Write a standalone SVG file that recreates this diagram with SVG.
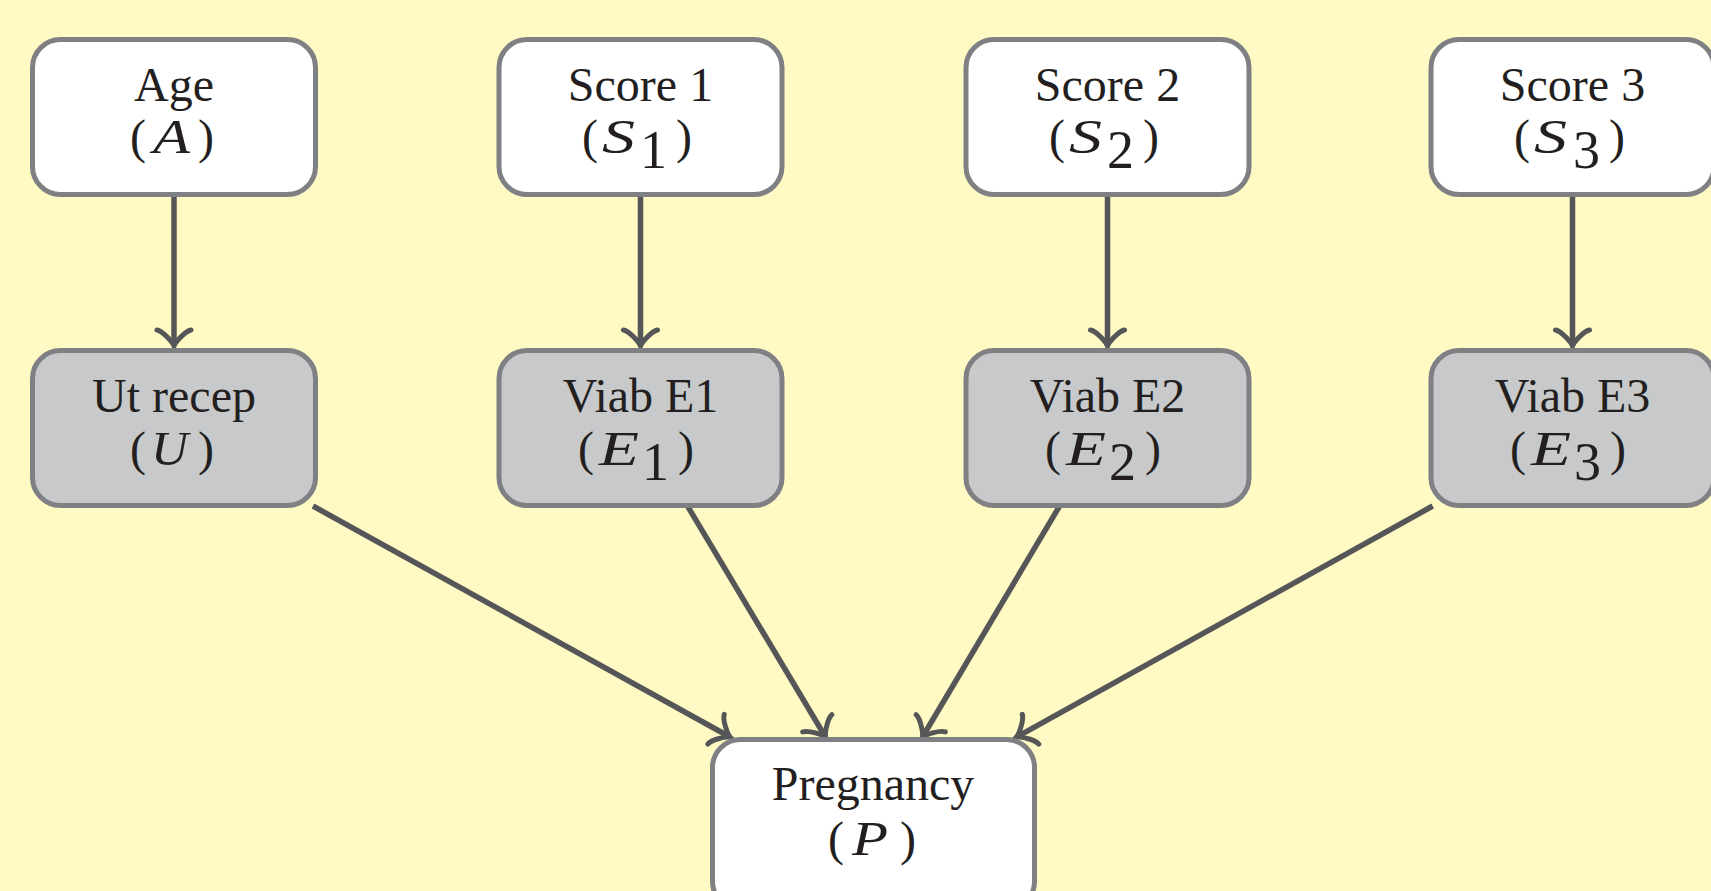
<svg xmlns="http://www.w3.org/2000/svg" width="1711" height="891" viewBox="0 0 1711 891">
<style>
.box{stroke:#7f8083;stroke-width:5}
.w{fill:#ffffff}
.g{fill:#c8c9cb}
.t{font-family:"Liberation Serif","DejaVu Serif",serif;font-size:48px;fill:#231f20}
.i{font-style:italic}
.sub{font-size:54px}
.edge{stroke:#555657;stroke-width:5.5;fill:none;marker-end:url(#to)}
</style>
<defs>
<marker id="to" markerUnits="userSpaceOnUse" orient="auto" refX="3" refY="0" markerWidth="40" markerHeight="40" overflow="visible">
<path d="M -13,17 C -11.8,10.7 0,1 3,0 C 0,-1 -11.8,-10.7 -13,-17" fill="none" stroke="#555657" stroke-width="5" stroke-linecap="round"/>
</marker>
</defs>
<rect width="1711" height="891" fill="#fff9c4"/>
<g id="connectors">
<line class="edge" x1="174" y1="197" x2="174" y2="346"/>
<line class="edge" x1="640.5" y1="197" x2="640.5" y2="346"/>
<line class="edge" x1="1107.5" y1="197" x2="1107.5" y2="346"/>
<line class="edge" x1="1572.5" y1="197" x2="1572.5" y2="346"/>
<line class="edge" x1="313" y1="506" x2="730" y2="737"/>
<line class="edge" x1="687.5" y1="506" x2="825.5" y2="737"/>
<line class="edge" x1="1059.6" y1="506" x2="922.5" y2="737"/>
<line class="edge" x1="1432.7" y1="506" x2="1016.5" y2="737"/>
</g>
<g id="nodeA">
<rect class="box w" x="32.5" y="39.5" width="283" height="155" rx="28"/>
<text class="t" x="174" y="101" text-anchor="middle">Age</text>
<text class="t" y="153"><tspan x="130">(</tspan><tspan class="i" x="153" textLength="37" lengthAdjust="spacingAndGlyphs">A</tspan><tspan x="198">)</tspan></text>
</g>
<g id="nodeS1">
<rect class="box w" x="499" y="39.5" width="283" height="155" rx="28"/>
<text class="t" x="640.5" y="101" text-anchor="middle">Score 1</text>
<text class="t" y="153"><tspan x="582">(</tspan><tspan class="i" x="602" textLength="33" lengthAdjust="spacingAndGlyphs">S</tspan><tspan class="sub" x="640" dy="15">1</tspan><tspan x="676" dy="-15">)</tspan></text>
</g>
<g id="nodeS2">
<rect class="box w" x="966" y="39.5" width="283" height="155" rx="28"/>
<text class="t" x="1107.5" y="101" text-anchor="middle">Score 2</text>
<text class="t" y="153"><tspan x="1049">(</tspan><tspan class="i" x="1069" textLength="33" lengthAdjust="spacingAndGlyphs">S</tspan><tspan class="sub" x="1107" dy="15">2</tspan><tspan x="1143" dy="-15">)</tspan></text>
</g>
<g id="nodeS3">
<rect class="box w" x="1431" y="39.5" width="283" height="155" rx="28"/>
<text class="t" x="1572.5" y="101" text-anchor="middle">Score 3</text>
<text class="t" y="153"><tspan x="1514">(</tspan><tspan class="i" x="1534" textLength="33" lengthAdjust="spacingAndGlyphs">S</tspan><tspan class="sub" x="1573" dy="15">3</tspan><tspan x="1609" dy="-15">)</tspan></text>
</g>
<g id="nodeU">
<rect class="box g" x="32.5" y="350.5" width="283" height="155" rx="28"/>
<text class="t" x="174" y="412" text-anchor="middle">Ut recep</text>
<text class="t" y="465"><tspan x="130">(</tspan><tspan class="i" x="151" textLength="37" lengthAdjust="spacingAndGlyphs">U</tspan><tspan x="198">)</tspan></text>
</g>
<g id="nodeE1">
<rect class="box g" x="499" y="350.5" width="283" height="155" rx="28"/>
<text class="t" x="640.5" y="412" text-anchor="middle">Viab E1</text>
<text class="t" y="465"><tspan x="578">(</tspan><tspan class="i" x="599" textLength="40" lengthAdjust="spacingAndGlyphs">E</tspan><tspan class="sub" x="642" dy="15">1</tspan><tspan x="678" dy="-15">)</tspan></text>
</g>
<g id="nodeE2">
<rect class="box g" x="966" y="350.5" width="283" height="155" rx="28"/>
<text class="t" x="1107.5" y="412" text-anchor="middle">Viab E2</text>
<text class="t" y="465"><tspan x="1045">(</tspan><tspan class="i" x="1066" textLength="40" lengthAdjust="spacingAndGlyphs">E</tspan><tspan class="sub" x="1109" dy="15">2</tspan><tspan x="1145" dy="-15">)</tspan></text>
</g>
<g id="nodeE3">
<rect class="box g" x="1431" y="350.5" width="283" height="155" rx="28"/>
<text class="t" x="1572.5" y="412" text-anchor="middle">Viab E3</text>
<text class="t" y="465"><tspan x="1510">(</tspan><tspan class="i" x="1531" textLength="40" lengthAdjust="spacingAndGlyphs">E</tspan><tspan class="sub" x="1574" dy="15">3</tspan><tspan x="1610" dy="-15">)</tspan></text>
</g>
<g id="nodeP">
<rect class="box w" x="712.5" y="739.5" width="322" height="170" rx="28"/>
<text class="t" x="873" y="800" text-anchor="middle">Pregnancy</text>
<text class="t" y="855"><tspan x="828">(</tspan><tspan class="i" x="852" textLength="36" lengthAdjust="spacingAndGlyphs">P</tspan><tspan x="900">)</tspan></text>
</g>
</svg>
